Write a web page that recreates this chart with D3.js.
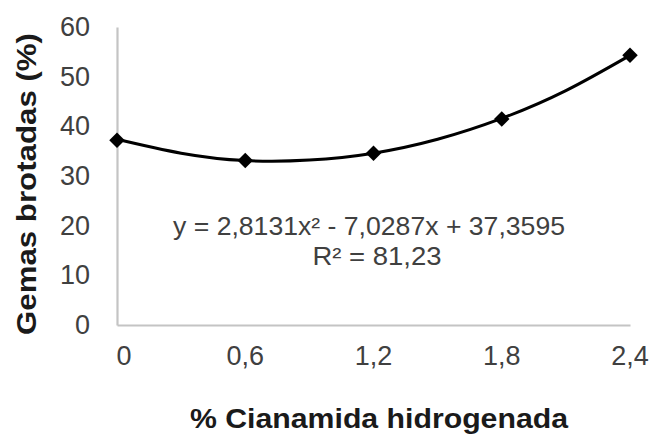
<!DOCTYPE html>
<html>
<head>
<meta charset="utf-8">
<script src="https://cdn.jsdelivr.net/npm/d3@7"></script>
<style>
  body { margin: 0; background: #fff; }
  text { font-family: "Liberation Sans", Arial, sans-serif; }
</style>
</head>
<body>
<div id="chart"></div>
<script>
// data
var doses = [0, 0.6, 1.2, 1.8, 2.4];
var gemas = [37.2, 33.1, 34.6, 41.5, 54.3];
// trendline
var trendX = [0, 0.3, 0.6, 0.9, 1.2, 1.5, 1.8, 2.1, 2.4];
var trendY = [37.4, 34.6, 33.1, 33.2, 34.6, 37.4, 41.6, 47.2, 54.3];
var yTicks = [0, 10, 20, 30, 40, 50, 60];
var xTickLabels = ["0", "0,6", "1,2", "1,8", "2,4"];
var eqLines = ["y = 2,8131x\u00b2 - 7,0287x + 37,3595", "R\u00b2 = 81,23"];

var w = 651, h = 434;
var m = {top: 27, right: 21, bottom: 109, left: 117};

var svg = d3.select("#chart")
            .append("svg")
            .attr("width", w)
            .attr("height", h);

// scales
var xScale = d3.scaleLinear()
               .domain([0, 2.4])
               .range([m.left, w - m.right]);

var yScale = d3.scaleLinear()
               .domain([0, 60])
               .range([h - m.bottom, m.top]);

// axes (lines only, labels placed by hand below)
var xAxis = d3.axisBottom(xScale).tickValues(doses).tickSize(0).tickFormat("");
var yAxis = d3.axisLeft(yScale).tickValues(yTicks).tickSize(0).tickFormat("");

svg.append("g")
   .attr("transform", "translate(0," + (h - m.bottom) + ")")
   .call(xAxis)
   .select(".domain")
   .attr("stroke", "#c4c4c4")
   .attr("stroke-width", 2.2);

svg.append("g")
   .attr("transform", "translate(" + m.left + ",0)")
   .call(yAxis)
   .select(".domain")
   .attr("stroke", "#c4c4c4")
   .attr("stroke-width", 2.2);

// tick labels
svg.append("g")
   .selectAll("text")
   .data(yTicks)
   .enter()
   .append("text")
   .attr("x", 90)
   .attr("y", (d) => yScale(d) + 9)
   .attr("text-anchor", "end")
   .attr("font-size", 27)
   .attr("fill", "#404040")
   .text((d) => d);

svg.append("g")
   .selectAll("text")
   .data(doses)
   .enter()
   .append("text")
   .attr("x", (d, i) => xScale(d) + (i == 0 ? 7 : 0))
   .attr("y", 365)
   .attr("text-anchor", "middle")
   .attr("font-size", 27)
   .attr("fill", "#404040")
   .text((d, i) => xTickLabels[i]);

// axis titles
svg.append("text")
   .attr("x", 379)
   .attr("y", 428)
   .attr("text-anchor", "middle")
   .attr("font-size", 28)
   .attr("font-weight", "bold")
   .attr("fill", "#1a1a1a")
   .attr("textLength", 378)
   .attr("lengthAdjust", "spacingAndGlyphs")
   .text("% Cianamida hidrogenada");

svg.append("text")
   .attr("transform", "translate(36,184) rotate(-90)")
   .attr("text-anchor", "middle")
   .attr("font-size", 28)
   .attr("font-weight", "bold")
   .attr("fill", "#1a1a1a")
   .attr("textLength", 302)
   .attr("lengthAdjust", "spacingAndGlyphs")
   .text("Gemas brotadas (%)");

// trendline
var line = d3.line()
             .x((d) => xScale(d[0]))
             .y((d) => yScale(d[1]))
             .curve(d3.curveNatural);

svg.append("path")
   .datum(trendX.map((x, i) => [x, trendY[i]]))
   .attr("d", line)
   .attr("fill", "none")
   .attr("stroke", "#000")
   .attr("stroke-width", 3);

// markers
var diamond = d3.symbol().type(d3.symbolSquare).size(120);

svg.append("g")
   .selectAll("path")
   .data(doses)
   .enter()
   .append("path")
   .attr("d", diamond)
   .attr("transform", (d, i) => "translate(" + xScale(d) + "," + yScale(gemas[i]) + ") rotate(45)")
   .attr("fill", "#000");

// equation
svg.append("g")
   .selectAll("text")
   .data(eqLines)
   .enter()
   .append("text")
   .attr("x", (d, i) => i == 0 ? 369 : 377)
   .attr("y", (d, i) => 235 + i * 30)
   .attr("text-anchor", "middle")
   .attr("font-size", 26)
   .attr("fill", "#404040")
   .attr("textLength", (d, i) => i == 0 ? 392 : 129)
   .attr("lengthAdjust", "spacingAndGlyphs")
   .text((d) => d);
</script>
</body>
</html>
